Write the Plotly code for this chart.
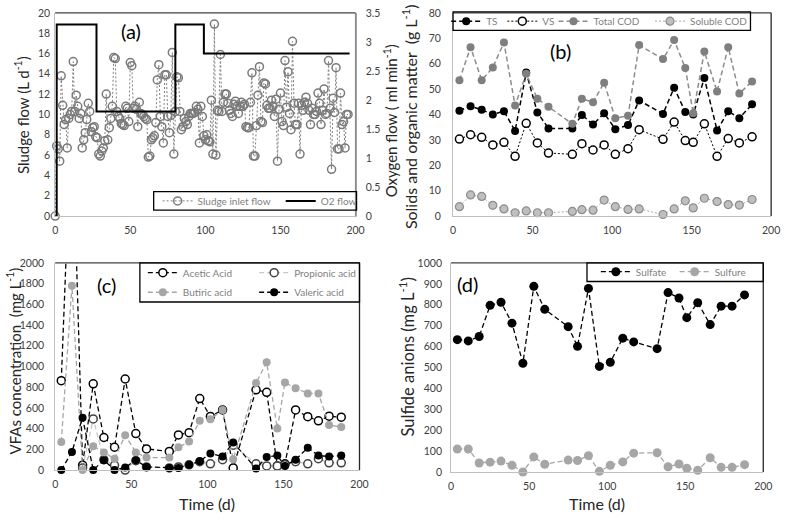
import plotly.graph_objects as go

W, H = 790, 519
def px(x): return x / W
def py(y): return 1 - y / H

FONT = "Lato, 'Open Sans', sans-serif"

# ---------------- Panel (a) data ----------------
sludge_flow = [
    0, 6.9, 6.6, 5.4, 13.8, 10.9, 9.0, 9.5, 6.7, 9.6, 10.0, 10.3, 15.2, 10.3, 11.9, 10.8, 9.6, 10.1, 6.7, 7.5,
    8.2, 9.5, 11.1, 10.3, 8.3, 8.7, 8.8, 7.8,
    7.7, 6.1, 5.9, 6.4, 6.7, 7.4, 12.0, 7.5, 8.7, 9.6, 10.8, 15.6, 15.5,
    10.3, 9.8, 9.6, 9.1, 9.0, 8.9, 10.8, 10.6, 9.3, 15.1, 14.8, 10.6, 10.8, 10.5, 8.8, 11.2, 10.1, 10.0, 9.8, 9.6,
    9.5, 5.8, 5.9, 7.5, 7.7, 7.9, 9.2, 13.4, 14.9, 9.8, 8.8, 7.2, 13.9, 13.9, 9.8, 8.2, 9.9, 16.1, 6.1, 10.3,
    13.7, 13.6, 10.3, 8.5, 8.8, 9.6, 9.3, 9.0, 9.8, 10.1, 10.1, 10.1, 10.2, 10.8, 10.5, 7.2, 10.8, 9.8, 7.9, 7.5,
    8.0, 7.4, 7.3, 11.4, 6.1, 18.9, 6.0, 10.4, 10.3, 15.9, 10.3, 11.2, 12.0, 12.0, 11.1, 10.4, 10.1, 9.8, 11.0,
    11.3, 10.8, 10.1,
    10.8, 11.2, 10.8, 11.0, 8.8, 8.7, 8.7, 11.2, 14.1, 5.9, 5.9, 8.9, 11.9, 14.7, 9.3, 9.2, 13.1, 13.0, 10.9, 10.6,
    10.6, 11.4, 10.8, 9.8, 11.5, 5.4, 10.5, 12.1, 9.3, 8.9, 15.3, 10.7, 14.2, 10.1, 8.5, 17.2, 11.1, 9.0, 9.0,
    11.1, 6.1, 10.9, 10.4, 11.2, 11.7, 11.1, 10.4, 9.0, 10.6, 10.0, 10.0, 10.3, 12.1, 11.1, 9.0, 10.4, 12.5,
    10.0, 10.1, 15.3, 10.6, 4.6, 11.6, 10.2, 14.6, 6.6, 6.6, 12.1, 9.0, 9.3, 6.7, 10.0, 10.0,
]
sludge_days = list(range(len(sludge_flow)))

o2_days = [0, 1, 27.5, 80, 99, 196]
o2_flow = [0, 3.3, 1.8, 3.3, 2.8, 2.8]

# ---------------- Sampling days for (b), (c), (d) ----------------
days = [4, 11, 18, 25, 32, 39, 46, 53, 60, 75, 81, 88, 95, 102, 110, 117, 132, 139, 146, 151, 158, 166, 173, 180, 188]

# Panel (b)
ts = [41.5, 43.2, 41.8, 40.0, 41.3, 33.5, 56.5, 40.8, 34.5, 34.5, 39.8, 36.0, 40.5, 34.2, 35.8, 45.5, 40.2, 50.5,
      41.0, 40.0, 54.3, 33.7, 41.3, 38.5, 44.0]
vs = [30.3, 32.0, 31.0, 28.0, 29.0, 23.5, 36.5, 28.8, 24.8, 24.3, 28.5, 26.0, 28.0, 24.3, 26.5, 34.0, 30.2, 37.0,
      29.7, 29.0, 36.3, 23.5, 30.5, 28.8, 31.2]
total_cod = [53.5, 66.5, 53.5, 58.5, 68.3, 43.5, 56.0, 46.2, 43.0, 36.3, 46.2, 44.8, 52.5, 38.5, 39.5, 67.3, 61.8,
             69.3, 58.3, 40.5, 64.8, 49.0, 66.5, 48.2, 53.0]
soluble_cod = [3.7, 8.3, 7.7, 4.2, 2.8, 1.3, 2.0, 1.3, 1.3, 1.8, 2.5, 2.3, 6.3, 3.7, 2.6, 2.8, 0.6, 2.8, 6.0, 3.2,
               7.0, 5.7, 4.5, 4.3, 6.5]

# Panel (c)
acetic = [863, 3500, 47, 832, 314, 220, 879, 352, 204, 179, 339, 361, 690, 518, 580, 20, 775, 750, 40, 60, 580,
          515, 475, 520, 510]
propionic = [None, None, 20, 493, 100, 45, 0, 90, 30, 20, 30, 50, 80, 60, 100, 240, 60, 40, 40, 50, 80, 60, 110,
             70, 70]
butiric = [270, 1780, 0, 230, 170, 110, 335, 170, 120, 120, 220, 275, 475, 490, 580, 105, 840, 1040, 400, 845, 790,
           740, 740, 435, 415]
valeric = [0, 175, 505, 0, 95, 0, 25, 95, 30, 20, 20, 50, 85, 160, 130, 265, 15, 125, 140, 40, 100, 215, 140, 130,
           140]

# Panel (d)
sulfate = [633, 627, 648, 797, 812, 712, 520, 888, 778, 695, 601, 878, 505, 525, 640, 622, 590, 858, 832, 738, 810,
           705, 793, 793, 847]
sulfure = [110, 110, 43, 47, 52, 32, 0, 72, 37, 57, 55, 78, 3, 32, 48, 90, 92, 25, 38, 18, 8, 68, 22, 22, 35]

# ---------------- Layout geometry ----------------
A = dict(x0=53, x1=358, y0=7, y1=215)
B = dict(x0=457, x1=780, y0=7, y1=215)
C = dict(x0=53, x1=362, y0=263, y1=475)
D = dict(x0=455, x1=772, y0=263, y1=477)

def xdom(p): return [px(p["x0"]), px(p["x1"])]
def ydom(p): return [py(p["y1"]), py(p["y0"])]

DASH = "5px,3px"
DOT = "2px,2px"

fig = go.Figure()

# (a)  -> x / y (left) and y5 (right)
fig.add_trace(go.Scatter(
    x=sludge_days, y=sludge_flow, name="Sludge inlet flow", mode="lines+markers",
    line=dict(color="#7f7f7f", width=1, dash=DOT),
    marker=dict(symbol="circle-open", size=8, color="#7a7a7a", line=dict(width=1.5)),
    xaxis="x", yaxis="y", cliponaxis=False, legend="legend"))
fig.add_trace(go.Scatter(
    x=o2_days, y=o2_flow, name="O2 flow", mode="lines", line_shape="hv",
    line=dict(color="black", width=2), xaxis="x", yaxis="y5", legend="legend2"))

# (b) -> x2 / y2
fig.add_trace(go.Scatter(x=days, y=ts, name="TS", mode="lines+markers",
    line=dict(color="black", width=1.5, dash=DASH),
    marker=dict(size=8, color="black"), xaxis="x2", yaxis="y2", cliponaxis=False, legend="legend3"))
fig.add_trace(go.Scatter(x=days, y=vs, name="VS", mode="lines+markers",
    line=dict(color="black", width=1, dash=DOT),
    marker=dict(size=8, color="white", line=dict(color="black", width=1.5)),
    xaxis="x2", yaxis="y2", cliponaxis=False, legend="legend4"))
fig.add_trace(go.Scatter(x=days, y=total_cod, name="Total COD", mode="lines+markers",
    line=dict(color="#8c8c8c", width=1.5, dash=DASH),
    marker=dict(size=8, color="#7f7f7f"), xaxis="x2", yaxis="y2", cliponaxis=False, legend="legend5"))
fig.add_trace(go.Scatter(x=days, y=soluble_cod, name="Soluble COD", mode="lines+markers",
    line=dict(color="#a6a6a6", width=1, dash=DOT),
    marker=dict(size=8, color="#bfbfbf", line=dict(color="#8c8c8c", width=1.2)),
    xaxis="x2", yaxis="y2", cliponaxis=False, legend="legend6"))

# (c) -> x3 / y3
fig.add_trace(go.Scatter(x=days, y=acetic, name="Acetic Acid", mode="lines+markers",
    line=dict(color="black", width=1.3, dash=DASH),
    marker=dict(size=8, color="white", line=dict(color="black", width=1.5)),
    xaxis="x3", yaxis="y3", cliponaxis=True, legend="legend7"))
fig.add_trace(go.Scatter(x=days, y=propionic, name="Propionic acid", mode="lines+markers",
    line=dict(color="#c8c8c8", width=1.3, dash=DASH),
    marker=dict(size=8, color="white", line=dict(color="#404040", width=1.5)),
    xaxis="x3", yaxis="y3", cliponaxis=False, legend="legend8"))
fig.add_trace(go.Scatter(x=days, y=butiric, name="Butiric acid", mode="lines+markers",
    line=dict(color="#a6a6a6", width=1.3, dash=DASH),
    marker=dict(size=8, color="#a6a6a6"), xaxis="x3", yaxis="y3", cliponaxis=False, legend="legend9"))
fig.add_trace(go.Scatter(x=days, y=valeric, name="Valeric acid", mode="lines+markers",
    line=dict(color="black", width=1.3, dash=DASH),
    marker=dict(size=8, color="black"), xaxis="x3", yaxis="y3", cliponaxis=False, legend="legend10"))

# (d) -> x4 / y4
fig.add_trace(go.Scatter(x=days, y=sulfate, name="Sulfate", mode="lines+markers",
    line=dict(color="black", width=1.3, dash=DASH),
    marker=dict(size=9, color="black"), xaxis="x4", yaxis="y4", cliponaxis=False, legend="legend11"))
fig.add_trace(go.Scatter(x=days, y=sulfure, name="Sulfure", mode="lines+markers",
    line=dict(color="#a6a6a6", width=1.3, dash=DASH),
    marker=dict(size=9, color="#a6a6a6"), xaxis="x4", yaxis="y4", cliponaxis=False, legend="legend12"))

tickfont = dict(family=FONT, size=10.5, color="#404040")

def xa(p, anchor, standoff=4):
    return dict(domain=xdom(p), range=[0, 200], dtick=50, anchor=anchor, showgrid=False, zeroline=False,
                showline=True, linecolor="#bfbfbf", linewidth=1, ticks="", tickfont=tickfont,
                ticklabelstandoff=standoff, fixedrange=True)

def ya(p, anchor, rng, dtick, standoff):
    return dict(domain=ydom(p), range=rng, dtick=dtick, anchor=anchor, side="left", showgrid=False,
                zeroline=False, showline=True, linecolor="#bfbfbf", linewidth=1, ticks="", tickfont=tickfont,
                showticklabels=True, ticklabelstandoff=standoff, fixedrange=True)

layout = dict(
    width=W, height=H, margin=dict(l=0, r=0, t=0, b=0),
    paper_bgcolor="white", plot_bgcolor="white",
    font=dict(family=FONT, color="#404040"),
    xaxis=xa(A, "y"),
    yaxis=ya(A, "x", [0, 20], 2, 2),
    xaxis2=xa(B, "y2"),
    yaxis2=ya(B, "x2", [0, 80], 10, 9),
    xaxis3=xa(C, "y3"),
    yaxis3=ya(C, "x3", [0, 2000], 200, 8),
    xaxis4=xa(D, "y4"),
    yaxis4=ya(D, "x4", [0, 1000], 100, 6),
    yaxis5=dict(range=[0, 3.5], dtick=0.5, overlaying="y", side="right", anchor="x",
                showgrid=False, zeroline=False, showline=True, linecolor="#a6a6a6", ticks="",
                tickfont=tickfont, ticklabelstandoff=7, fixedrange=True),
    showlegend=True,
)

# legends (one per entry for precise placement)
leg_font = dict(family=FONT, size=10, color="#7f7f7f")
leg_pos = {
    "legend": (157, 199.5), "legend2": (282, 199.5),
    "legend3": (450, 15.5), "legend4": (507, 15.5), "legend5": (559, 15.5), "legend6": (657, 15.5),
    "legend7": (142, 273), "legend8": (255, 273), "legend9": (142, 293), "legend10": (255, 293),
    "legend11": (602, 272), "legend12": (682, 272),
}
for k, (lx, ly) in leg_pos.items():
    layout[k] = dict(x=px(lx), y=py(ly), xanchor="left", yanchor="middle", bgcolor="rgba(0,0,0,0)",
                     borderwidth=0, font=leg_font, orientation="h", itemclick=False, itemdoubleclick=False)

fig.update_layout(**layout)

# borders & legend boxes
shapes = []
for p, rc in [(A, "#8c8c8c"), (B, "#262626"), (C, "#262626"), (D, "#262626")]:
    shapes.append(dict(type="line", xref="paper", yref="paper", x0=px(p["x0"]), x1=px(p["x1"]),
                       y0=py(p["y0"]), y1=py(p["y0"]), line=dict(color="#404040", width=1.3)))
    shapes.append(dict(type="line", xref="paper", yref="paper", x0=px(p["x1"]), x1=px(p["x1"]),
                       y0=py(p["y0"]), y1=py(p["y1"]), line=dict(color=rc, width=1.3)))
for (x0, y0, x1, y1) in [(153, 190, 359, 209), (457, 6, 759, 25), (139, 263, 362, 303), (593, 263, 772, 282)]:
    shapes.append(dict(type="rect", xref="paper", yref="paper", x0=px(x0), x1=px(x1), y0=py(y1), y1=py(y0),
                       line=dict(color="black", width=1.3), fillcolor="rgba(0,0,0,0)"))
fig.update_layout(shapes=shapes)

# text: axis titles and panel labels
ann = [
    dict(text="Sludge flow (L d<sup>-1</sup>)", x=19, y=112, angle=-90, size=15),
    dict(text="Oxygen flow ( ml min<sup>-1</sup>)", x=393, y=118, angle=-90, size=15),
    dict(text="Solids and organic matter  (g L<sup>-1</sup>)", x=413, y=113, angle=-90, size=16),
    dict(text="VFAs concentration  (mg L<sup>-1</sup>)", x=11, y=363, angle=-90, size=15),
    dict(text="Sulfide anions (mg L<sup>-1</sup>)", x=410, y=359, angle=-90, size=16.5),
    dict(text="Time (d)", x=207, y=509.5, angle=0, size=16),
    dict(text="Time (d)", x=603, y=509.5, angle=0, size=16),
]
annotations = []
for a in ann:
    annotations.append(dict(text=a["text"], x=px(a["x"]), y=py(a["y"]), xref="paper", yref="paper",
                            showarrow=False, textangle=a["angle"],
                            font=dict(family=FONT, size=a["size"], color="#262626"),
                            xanchor="center", yanchor="middle"))
for t, lx, ly in [("(a)", 130, 26), ("(b)", 566, 46), ("(c)", 105, 286), ("(d)", 472, 285)]:
    annotations.append(dict(text=t, x=px(lx), y=py(ly), xref="paper", yref="paper", showarrow=False,
                            font=dict(family=FONT, size=20, color="black"), xanchor="center", yanchor="middle"))
fig.update_layout(annotations=annotations)

fig.write_html("out.html", config={"displayModeBar": False},
               post_script="document.body.style.margin='0';document.body.style.padding='0';"
                           "document.body.style.overflow='hidden';")
